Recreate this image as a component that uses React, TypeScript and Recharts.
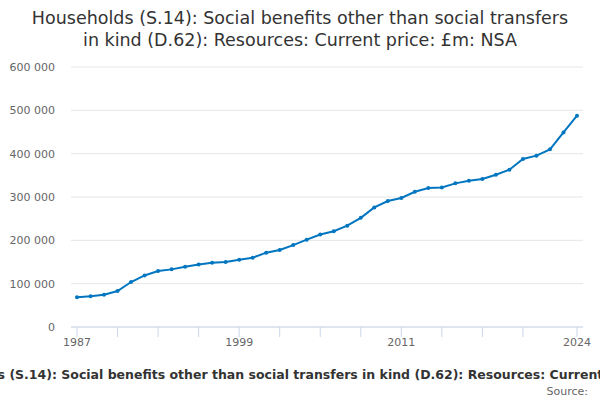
import { LineChart, Line, XAxis, YAxis, CartesianGrid } from 'recharts';

const TITLE = 'Households (S.14): Social benefits other than social transfers in kind (D.62): Resources: Current price: £m: NSA';

const YEARS = [
  1987, 1988, 1989, 1990, 1991, 1992, 1993, 1994, 1995, 1996,
  1997, 1998, 1999, 2000, 2001, 2002, 2003, 2004, 2005, 2006,
  2007, 2008, 2009, 2010, 2011, 2012, 2013, 2014, 2015, 2016,
  2017, 2018, 2019, 2020, 2021, 2022, 2023, 2024,
];

// £m
const VALUES = [
  68500, 70800, 74600, 83000, 103800, 119000, 129000, 133000, 139000, 144000,
  148000, 150000, 155000, 160000, 171500, 177700, 189000, 201500, 213500, 221000,
  233800, 252000, 276000, 290800, 297700, 312000, 320800, 322000, 331500, 337700,
  341500, 351500, 363000, 387700, 395400, 410000, 449000, 487700,
];

const X_TICKS = [1987, 1990, 1993, 1996, 1999, 2002, 2005, 2008, 2011, 2014, 2017, 2020, 2024];
const X_LABELS = [1987, 1999, 2011, 2024];
const Y_TICKS = [0, 100000, 200000, 300000, 400000, 500000, 600000];

const data = YEARS.map((year, i) => ({ year, value: VALUES[i] }));

const FONT = '"DejaVu Sans", sans-serif';

const fmtY = (v: number) => String(v).replace(/\B(?=(\d{3})+(?!\d))/g, ' ');

export default function App() {
  return (
    <div style={{ position: 'absolute', top: 0, left: 0, width: 600, height: 400, overflow: 'hidden', background: '#fff', fontFamily: FONT }}>
      <div style={{ position: 'absolute', top: 7, left: 0, width: 600, textAlign: 'center', fontSize: 17.5, lineHeight: '22px', color: '#333' }}>
        Households (S.14): Social benefits other than social transfers
        <br />
        in kind (D.62): Resources: Current price: £m: NSA
      </div>
      <LineChart width={600} height={400} data={data} margin={{ top: 67, right: 17, left: 0, bottom: 0 }}>
        <CartesianGrid vertical={false} stroke="#e6e6e6" />
        <XAxis
          dataKey="year"
          type="number"
          domain={[1987, 2024]}
          ticks={X_TICKS}
          tickFormatter={(v: number) => (X_LABELS.includes(v) ? String(v) : '')}
          padding={{ left: 6, right: 6 }}
          height={73}
          tickSize={10}
          tickMargin={1}
          stroke="#ccd6eb"
          tick={{ fill: '#666', fontSize: 11, fontFamily: FONT }}
          interval={0}
        />
        <YAxis
          domain={[0, 600000]}
          ticks={Y_TICKS}
          tickFormatter={fmtY}
          width={71}
          axisLine={false}
          tickLine={false}
          tickSize={0}
          tickMargin={16}
          tick={{ fill: '#666', fontSize: 11, fontFamily: FONT }}
        />
        <Line
          type="linear"
          dataKey="value"
          stroke="#0076c0"
          strokeWidth={2}
          dot={{ r: 2, fill: '#0076c0', stroke: '#0076c0', strokeWidth: 0 }}
          isAnimationActive={false}
        />
      </LineChart>
      <div style={{ position: 'absolute', top: 367, left: -77, whiteSpace: 'nowrap', fontSize: 12.5, fontWeight: 'bold', color: '#333' }}>
        {TITLE}
      </div>
      <div style={{ position: 'absolute', top: 385, right: 12, fontSize: 11, color: '#666' }}>
        Source:
      </div>
    </div>
  );
}
